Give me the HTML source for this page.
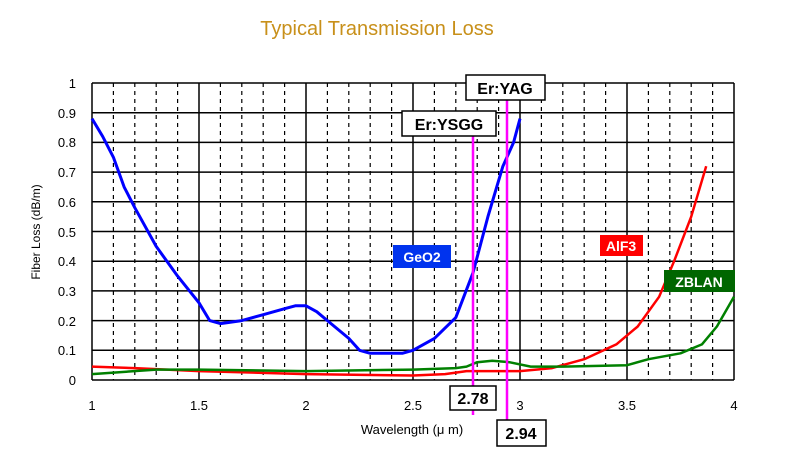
<!DOCTYPE html><html><head><style>body{margin:0;background:#fff}svg{display:block}</style></head><body>
<svg width="800" height="471" xmlns="http://www.w3.org/2000/svg" font-family="Liberation Sans, sans-serif">
<text x="377" y="35" text-anchor="middle" font-size="20" fill="#c8901a">Typical Transmission Loss</text>
<path stroke="#000" stroke-width="1.2" stroke-dasharray="4,4" fill="none" d="M113.4 83V380M134.8 83V380M156.2 83V380M177.6 83V380M220.4 83V380M241.8 83V380M263.2 83V380M284.6 83V380M327.4 83V380M348.8 83V380M370.2 83V380M391.6 83V380M434.4 83V380M455.8 83V380M477.2 83V380M498.6 83V380M541.4 83V380M562.8 83V380M584.2 83V380M605.6 83V380M648.4 83V380M669.8 83V380M691.2 83V380M712.6 83V380"/>
<path stroke="#000" stroke-width="1.5" fill="none" d="M92 83V380M199 83V380M306 83V380M413 83V380M520 83V380M627 83V380M734 83V380M92 380H734M92 350.3H734M92 320.6H734M92 290.9H734M92 261.2H734M92 231.5H734M92 201.8H734M92 172.1H734M92 142.4H734M92 112.7H734M92 83H734"/>
<g font-size="13" text-anchor="end">
<text x="76" y="385">0</text><text x="76" y="355">0.1</text><text x="76" y="326">0.2</text><text x="76" y="296">0.3</text><text x="76" y="266">0.4</text><text x="76" y="237">0.5</text><text x="76" y="207">0.6</text><text x="76" y="177">0.7</text><text x="76" y="147">0.8</text><text x="76" y="118">0.9</text><text x="76" y="88">1</text>
</g>
<g font-size="13" text-anchor="middle">
<text x="92" y="410">1</text><text x="199" y="410">1.5</text><text x="306" y="410">2</text><text x="413" y="410">2.5</text><text x="520" y="410">3</text><text x="627" y="410">3.5</text><text x="734" y="410">4</text>
</g>
<text transform="translate(40,232) rotate(-90)" text-anchor="middle" font-size="12">Fiber Loss (dB/m)</text>
<text x="412" y="434" text-anchor="middle" font-size="13">Wavelength (μ m)</text>
<polyline fill="none" stroke="#ff0000" stroke-width="2.5" stroke-linejoin="round" points="92,366.6 134.8,368.1 199,371.1 306,374.1 413,375.5 445.1,374.1 466.5,371.1 520,371.1 552.1,368.1 584.2,359.2 616.3,344.4 637.7,326.5 659.1,296.8 674.1,261.2 691.2,216.7 706.2,166.2"/>
<polyline fill="none" stroke="#008000" stroke-width="2.5" stroke-linejoin="round" points="92,374.1 156.2,369.6 199,369.6 306,371.1 413,369.6 455.8,368.1 466.5,366.6 477.2,362.2 492.2,360.7 509.3,362.2 530.7,366.6 562.8,366.6 627,365.2 648.4,359.2 680.5,353.3 701.9,344.4 716.9,326.5 734,296.8"/>
<polyline fill="none" stroke="#0000ff" stroke-width="3" stroke-linejoin="round" points="92,118.6 102.7,136.5 113.4,157.3 124.1,186.9 134.8,207.7 156.2,246.4 177.6,276.1 199,302.8 209.7,320.6 220.4,323.6 241.8,320.6 263.2,314.7 284.6,308.7 295.3,305.8 306,305.8 316.7,311.7 327.4,320.6 348.8,338.4 359.5,350.3 370.2,353.3 402.3,353.3 413,350.3 434.4,338.4 455.8,317.6 472.9,273.1 487.9,216.7 502.9,166.2 513.6,142.4 520,118.6"/>
<line x1="473" y1="135" x2="473" y2="415" stroke="#f0f" stroke-width="2.5"/>
<line x1="507" y1="100" x2="507" y2="437" stroke="#f0f" stroke-width="2.5"/>
<rect x="466" y="75" width="79" height="25" fill="#fff" stroke="#000" stroke-width="1.5"/>
<text x="505" y="94" text-anchor="middle" font-size="16" font-weight="bold">Er:YAG</text>
<rect x="402" y="111" width="94" height="25" fill="#fff" stroke="#000" stroke-width="1.5"/>
<text x="449" y="130" text-anchor="middle" font-size="16" font-weight="bold">Er:YSGG</text>
<rect x="450" y="386" width="46" height="24" fill="#fff" stroke="#000" stroke-width="1.5"/>
<text x="473" y="404" text-anchor="middle" font-size="16" font-weight="bold">2.78</text>
<rect x="497" y="420" width="49" height="26" fill="#fff" stroke="#000" stroke-width="1.5"/>
<text x="521" y="439" text-anchor="middle" font-size="16" font-weight="bold">2.94</text>
<rect x="393" y="245" width="58" height="23" fill="#0033ee"/><text x="422" y="262" text-anchor="middle" font-size="14" font-weight="bold" fill="#fff">GeO2</text>
<rect x="600" y="235" width="43" height="21" fill="#ff0000"/><text x="621" y="251" text-anchor="middle" font-size="14" font-weight="bold" fill="#fff">AlF3</text>
<rect x="664" y="270" width="71" height="22" fill="#006600"/><text x="699" y="287" text-anchor="middle" font-size="14" font-weight="bold" fill="#fff">ZBLAN</text>
</svg></body></html>
